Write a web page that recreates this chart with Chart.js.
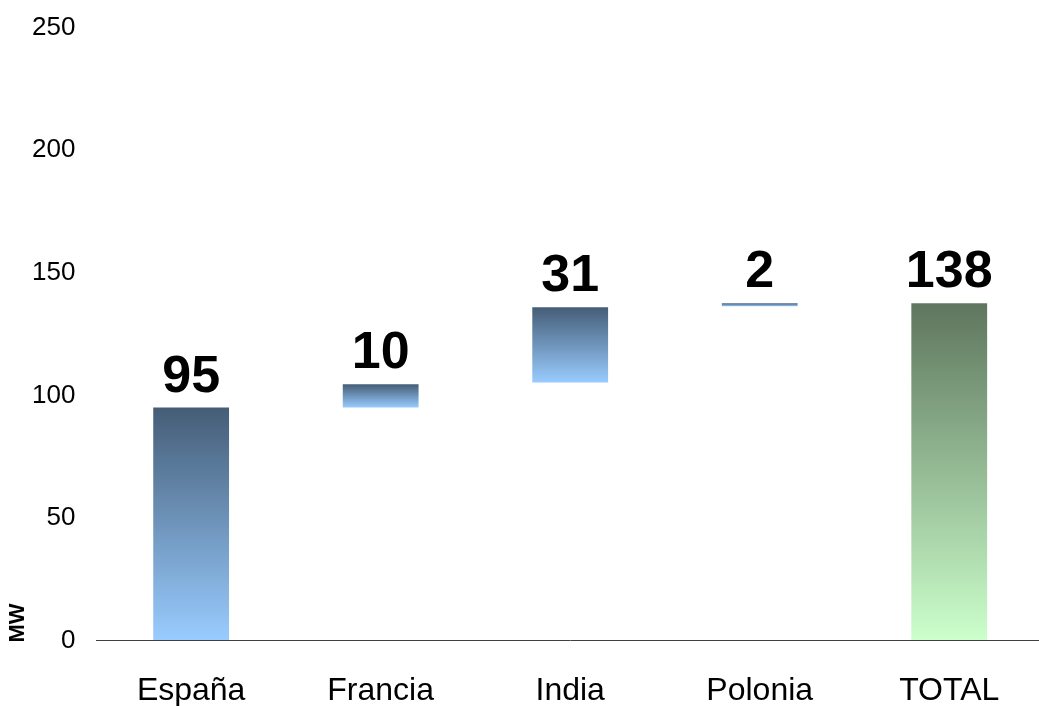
<html>
<head>
	<meta charset="utf-8">
	<script src="https://cdn.jsdelivr.net/npm/chart.js@4.4.1/dist/chart.umd.min.js"></script>
	<style>
		body { margin: 0; overflow: hidden; background: #fff; }
	</style>
</head>
<body>
	<canvas id="myChart" width="1044" height="706" style="display: block"></canvas>
</body>
<script>

// waterfall: each bar floats from start to end, label shows the step
const categories = ['España', 'Francia', 'India', 'Polonia', 'TOTAL'];
const stepValues = [95, 10, 31, 2, 138];
const barStart = [0, 95, 105.2, 136.3, 0];
const barEnd = [95, 104.5, 135.9, 137.6, 137.6];
const yTicks = [0, 50, 100, 150, 200, 250];

const blueTop = '#455d77', blueBottom = '#99ccff';
const greenTop = '#5e765e', greenBottom = '#ccffcc';
const fontFamily = '"Liberation Sans", Arial, sans-serif';

function barGradient(context) {
  const chart = context.chart;
  if (!chart.chartArea) return blueBottom;
  const i = context.dataIndex;
  const y = chart.scales.y;
  const top = y.getPixelForValue(barEnd[i]);
  const bottom = y.getPixelForValue(barStart[i]);
  const g = chart.ctx.createLinearGradient(0, top, 0, bottom);
  const isTotal = i === categories.length - 1;
  g.addColorStop(0, isTotal ? greenTop : blueTop);
  g.addColorStop(1, isTotal ? greenBottom : blueBottom);
  return g;
}

// big bold numbers above each bar, plus the small "MW" unit at bottom left
const valueLabels = {
  id: 'valueLabels',
  afterDatasetsDraw(chart) {
    const c = chart.ctx;
    const meta = chart.getDatasetMeta(0);
    c.save();
    c.font = 'bold 52px ' + fontFamily;
    c.fillStyle = '#000';
    c.textAlign = 'center';
    c.textBaseline = 'alphabetic';
    meta.data.forEach((bar, i) => {
      const top = chart.scales.y.getPixelForValue(barEnd[i]);
      c.fillText(String(stepValues[i]), bar.x, top - 16);
    });
    c.translate(18, 623);
    c.rotate(-Math.PI / 2);
    c.font = 'bold 22px ' + fontFamily;
    c.textBaseline = 'middle';
    c.fillText('MW', 0, 0);
    c.restore();
  }
};

const data = {
  labels: categories,
  datasets: [
    {
      label: 'MW',
      data: categories.map((c, i) => [barStart[i], barEnd[i]]),
      backgroundColor: barGradient,
      borderWidth: 0,
      barPercentage: 0.4,
      categoryPercentage: 1.0
    }
  ]
};

const config = {
  type: 'bar',
  data: data,
  plugins: [valueLabels],
  options: {
    responsive: false,
    animation: false,
    layout: { padding: { top: 27.5, left: 32, right: 0, bottom: -35 } },
    plugins: {
      legend: { display: false },
      tooltip: { enabled: false }
    },
    scales: {
      x: {
        grid: { display: false, drawTicks: false },
        border: { display: true, color: '#404040', width: 1 },
        ticks: {
          color: '#000',
          padding: 31,
          maxRotation: 0,
          font: { family: fontFamily, size: 32 }
        }
      },
      y: {
        min: 0,
        max: 250,
        afterBuildTicks: (axis) => { axis.ticks = yTicks.map(v => ({ value: v })); },
        // invisible tick marks give the gap between labels and plot
        grid: { display: true, drawOnChartArea: false, drawTicks: true, tickLength: 21, color: 'rgba(0,0,0,0)' },
        border: { display: false },
        ticks: {
          color: '#000',
          padding: 0,
          font: { family: fontFamily, size: 26 }
        }
      }
    }
  }
};

var ctx = document.getElementById('myChart');
var myChart = new Chart(ctx, config);

</script>
</html>
